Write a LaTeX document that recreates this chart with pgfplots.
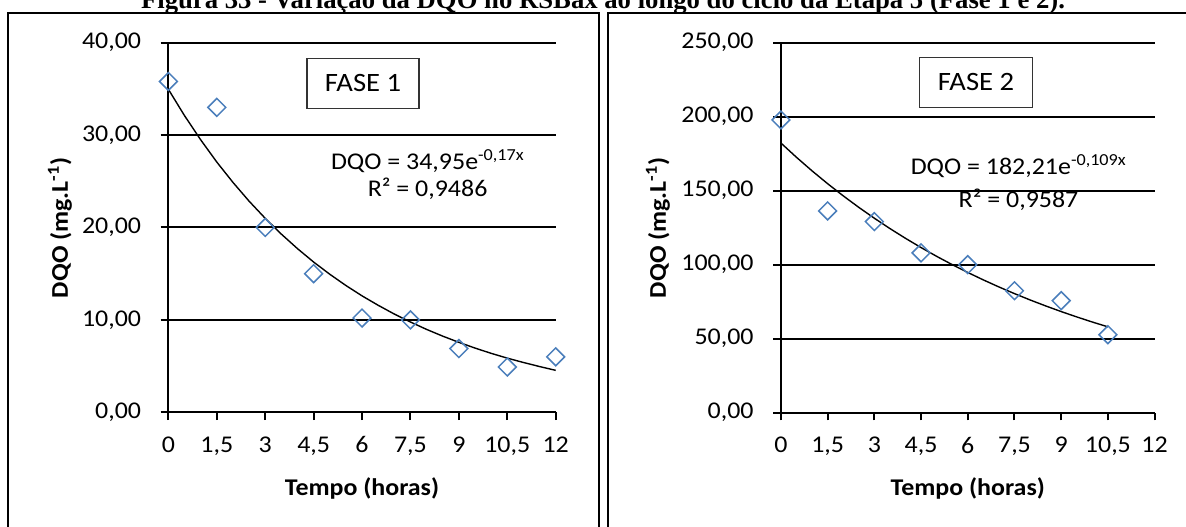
\documentclass[border=0pt]{standalone}
\usepackage{pgfplots}
\pgfplotsset{compat=1.18}
\usepackage{fontspec}
\setmainfont{Carlito}[FakeStretch=1.08]
\newfontfamily\titlefont{Liberation Serif}
\definecolor{mblue}{HTML}{4A7EBB}
\newcommand{\fs}{\fontsize{24bp}{29bp}\selectfont}
\newcommand{\fb}{\fontsize{26.5bp}{31bp}\selectfont}
\pgfplotsset{
  dqo/.style={
    scale only axis, anchor=south west, clip=false,
    xmin=0, xmax=12, ymin=0,
    axis x line*=bottom, axis y line*=left,
    axis line style={black, line width=2bp, -},
    xtick={0,1.5,3,4.5,6,7.5,9,10.5,12},
    xticklabels={0,{1,5},3,{4,5},6,{7,5},9,{10,5},12},
    x tick label style={yshift=-13bp},
    y tick label style={xshift=-16bp},
    tick align=outside, major tick length=7.8bp,
    tick style={black, line width=2bp},
    ymajorgrids, grid style={black, line width=2bp},
    ticklabel style={font=\fs},
  },
  pts/.style={only marks, mark=square, mark size=6.3bp,
    mark options={rotate=45, draw=mblue, line width=1.5bp, fill=none}},
  trend/.style={black, line width=1.4bp, no marks},
}
\begin{document}
\begin{tikzpicture}[x=1bp,y=1bp]
\path[use as bounding box] (0,0) rectangle (1186,527);
\clip (0,0) rectangle (1186,527);
% title
\node[anchor=base, font={\titlefont\bfseries\fontsize{26.7bp}{31bp}\selectfont}, inner sep=0pt] at (603,518)
  {Figura 33 - Variação da DQO no RSBax ao longo do ciclo da Etapa 5 (Fase 1 e 2).};
% frames
\draw[black, line width=2bp] (8,-20) -- (8,514) -- (599,514) -- (599,-20);
\draw[black, line width=2bp] (608,-20) -- (608,514) -- (1200,514);

% ---------- FASE 1 ----------
\begin{axis}[dqo, at={(168.4bp,114.7bp)}, width=387.3bp, height=369.6bp,
  ymax=40, ytick={0,10,20,30,40},
  yticklabels={{0,00},{10,00},{20,00},{30,00},{40,00}}]
\addplot[pts] coordinates {
(0,35.8) (1.5,33.0) (3,20.0) (4.5,15.0) (6,10.2) (7.5,10.0) (9,6.9) (10.5,4.9) (12,6.0)};
\addplot[trend] coordinates {
(0,34.95) (0.5,32.10) (1,29.49) (1.5,27.08) (2,24.88) (2.5,22.85) (3,20.99)
(3.5,19.28) (4,17.71) (4.5,16.26) (5,14.94) (5.5,13.72) (6,12.60) (6.5,11.58)
(7,10.63) (7.5,9.77) (8,8.97) (8.5,8.24) (9,7.57) (9.5,6.95) (10,6.38)
(10.5,5.86) (11,5.39) (11.5,4.95) (12,4.54)};
\end{axis}
\node[draw=black!80, line width=1.2bp, minimum width=112bp, minimum height=50bp, font=\fb] at (363,443.7) {FASE 1};
\node[font=\fs, align=center, inner sep=0pt] at (427.6,352.5) {DQO = 34,95e\textsuperscript{-0,17x}\\[-2bp] R² = 0,9486};
\node[rotate=90, font=\fs\bfseries] at (60,299) {DQO (mg.L\textsuperscript{-1})};
\node[font=\fs\bfseries] at (362,38.7) {Tempo (horas)};

% ---------- FASE 2 ----------
\begin{axis}[dqo, at={(780.9bp,114.3bp)}, width=373.7bp, height=370bp,
  ymax=250, ytick={0,50,100,150,200,250},
  yticklabels={{0,00},{50,00},{100,00},{150,00},{200,00},{250,00}}]
\addplot[pts] coordinates {
(0,197.8) (1.5,136.3) (3,129.1) (4.5,108.0) (6,100.0) (7.5,82.4) (9,75.7) (10.5,52.7)};
\addplot[trend] coordinates {
(0,182.21) (0.5,172.55) (1,163.39) (1.5,154.73) (2,146.52) (2.5,138.75) (3,131.39)
(3.5,124.42) (4,117.82) (4.5,111.57) (5,105.65) (5.5,100.05) (6,94.74) (6.5,89.72)
(7,84.96) (7.5,80.45) (8,76.19) (8.5,72.15) (9,68.32) (9.5,64.70) (10,61.26) (10.5,58.01)};
\end{axis}
\node[draw=black!80, line width=1.2bp, minimum width=113bp, minimum height=49.6bp, font=\fb] at (976,444.5) {FASE 2};
\node[font=\fs, align=center, inner sep=0pt] at (1018.5,344.7) {DQO = 182,21e\textsuperscript{-0,109x}\\[4bp] R² = 0,9587};
\node[rotate=90, font=\fs\bfseries] at (658,299) {DQO (mg.L\textsuperscript{-1})};
\node[font=\fs\bfseries] at (967.8,38.7) {Tempo (horas)};
\end{tikzpicture}
\end{document}
